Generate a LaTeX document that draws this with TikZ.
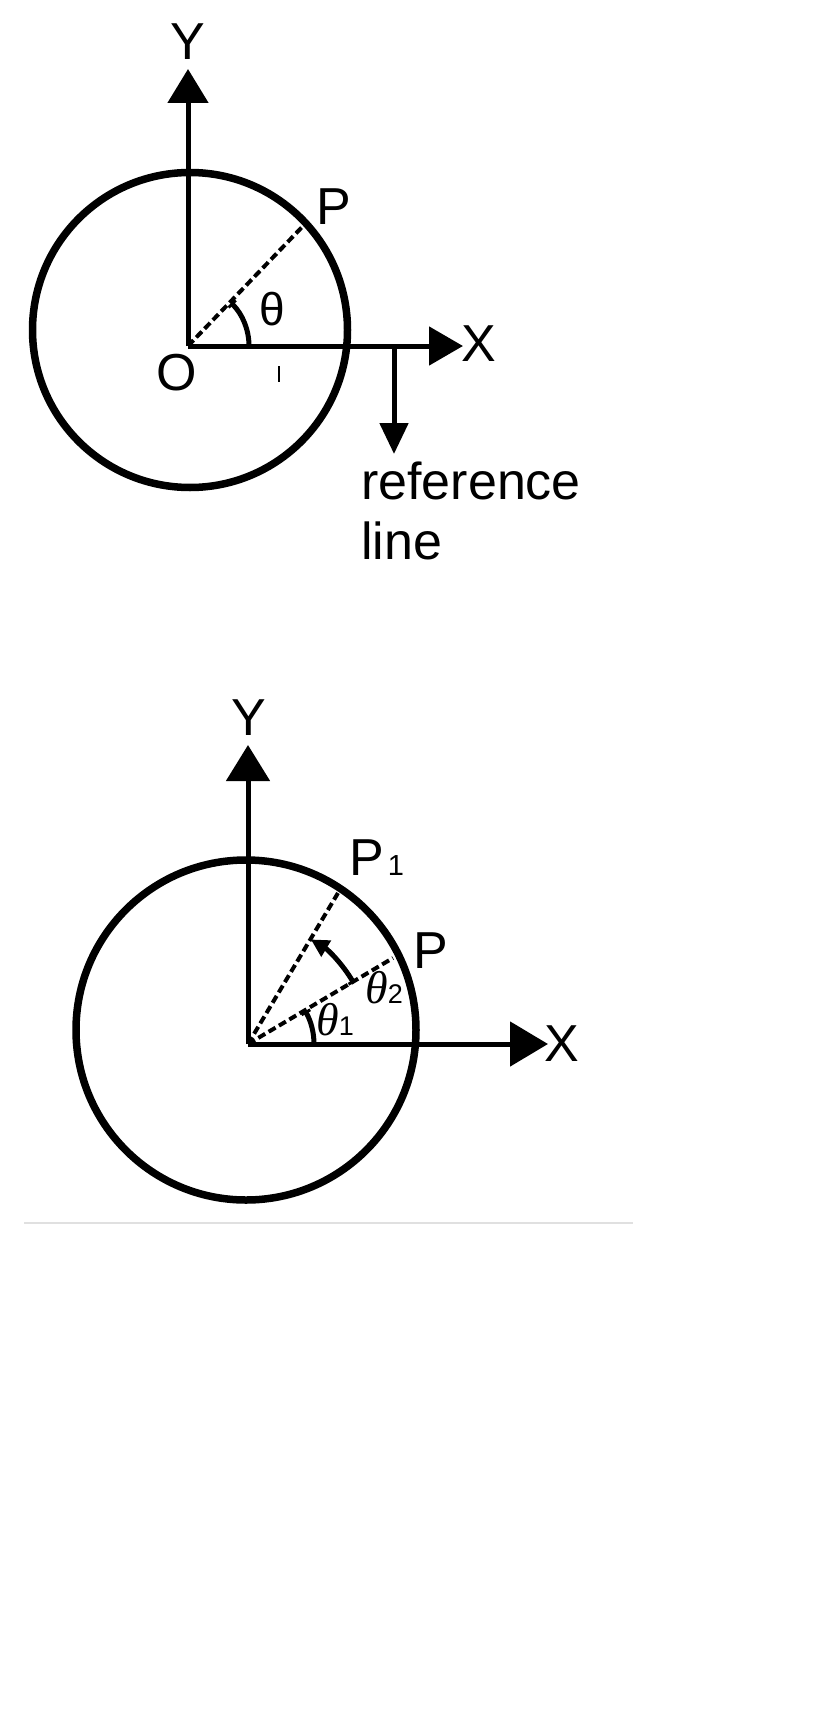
\documentclass[tikz,border=0pt]{standalone}
\usepackage{fontspec}
\setmainfont{Liberation Sans}
\newfontfamily\thfont{Liberation Serif}
\usetikzlibrary{arrows.meta}
\begin{document}
\begin{tikzpicture}[x=1pt,y=1pt,
  axis/.style={line width=5pt},
  ring/.style={line width=7.5pt},
  dash line/.style={line width=4pt, dash pattern=on 8pt off 4pt},
  angarc/.style={line width=5pt},
  lbl/.style={inner sep=0pt, font=\fontsize{52}{60}\selectfont}]
\useasboundingbox (0,0) rectangle (824,-1728);
% ---------- top diagram ----------
\coordinate (O1) at (188,-346);
\coordinate (Yt1) at (188,-69);
\coordinate (Xt1) at (463,-346);
\coordinate (C1) at (190,-330);
\coordinate (P1) at (304,-225);
\coordinate (R1) at (394,-346);
\coordinate (Rt1) at (394,-454);
\draw[ring] (C1) circle[radius=157.5];
\draw[axis,-{Triangle[length=34pt,width=40pt]}] (O1) -- (Yt1);
\draw[axis,-{Triangle[length=34pt,width=38pt]}] (O1) -- (Xt1);
\draw[axis,-{Triangle[length=31pt,width=28pt]}] (R1) -- (Rt1);
\draw[dash line] (O1) -- (P1);
\draw[angarc,-{Bar[width=10pt,line width=3pt]}] (O1) ++(0:61) arc[start angle=0,end angle=45,radius=61];
\coordinate (tk1) at (279,-366);
\coordinate (tk2) at (279,-382);
\draw[line width=2pt] (tk1) -- (tk2);
\node[lbl] (Ylab1) at (188,-42) {Y};
\node[lbl] (Xlab1) at (479,-344) {X};
\node[lbl] (Olab1) at (177,-373) {O};
\node[lbl] (Plab1) at (334,-207) {P};
\node[inner sep=0pt,font=\fontsize{46}{46}\selectfont] (th1) at (272,-309) {θ};
\node[lbl,anchor=north west,align=left] (ref) at (361,-462) {reference\\line};
% ---------- bottom diagram ----------
\coordinate (O2) at (248,-1044);
\coordinate (Yt2) at (248,-745);
\coordinate (Xt2) at (548,-1044);
\coordinate (C2) at (246,-1030);
\coordinate (P2) at (393,-958);
\coordinate (Q2) at (338,-893);
\draw[ring] (C2) circle[radius=170];
\draw[axis,-{Triangle[length=36pt,width=43pt]}] (O2) -- (Yt2);
\draw[axis,-{Triangle[length=38pt,width=44pt]}] (O2) -- (Xt2);
\draw[dash line] (O2) -- (P2);
\draw[dash line] (O2) -- (Q2);
\draw[angarc,-{Bar[width=10pt,line width=3pt]}] (O2) ++(0:66) arc[start angle=0,end angle=30,radius=66];
\draw[angarc,{Bar[width=10pt,line width=3pt]}-{Triangle[length=18pt,width=18pt]}] (O2) ++(30:122) arc[start angle=30,end angle=59,radius=122];
\node[lbl] (Ylab2) at (249,-718) {Y};
\node[lbl] (Xlab2) at (562,-1044) {X};
\node[lbl] (Plab2) at (431,-951) {P};
\node[lbl,anchor=base west] (Q2lab) at (349,-875) {P\kern4pt{\fontsize{29}{29}\selectfont 1}};
\node[inner sep=0pt,anchor=base west] (th21) at (316,-1035) {{\fontsize{46}{46}\selectfont\thfont\itshape θ}{\fontsize{27}{27}\selectfont 1}};
\node[inner sep=0pt,anchor=base west] (th22) at (365,-1003) {{\fontsize{46}{46}\selectfont\thfont\itshape θ}{\fontsize{27}{27}\selectfont 2}};
% separator
\coordinate (s1) at (24,-1223);
\coordinate (s2) at (633,-1223);
\draw[line width=1.5pt, black!12] (s1) -- (s2);
\end{tikzpicture}
\end{document}
